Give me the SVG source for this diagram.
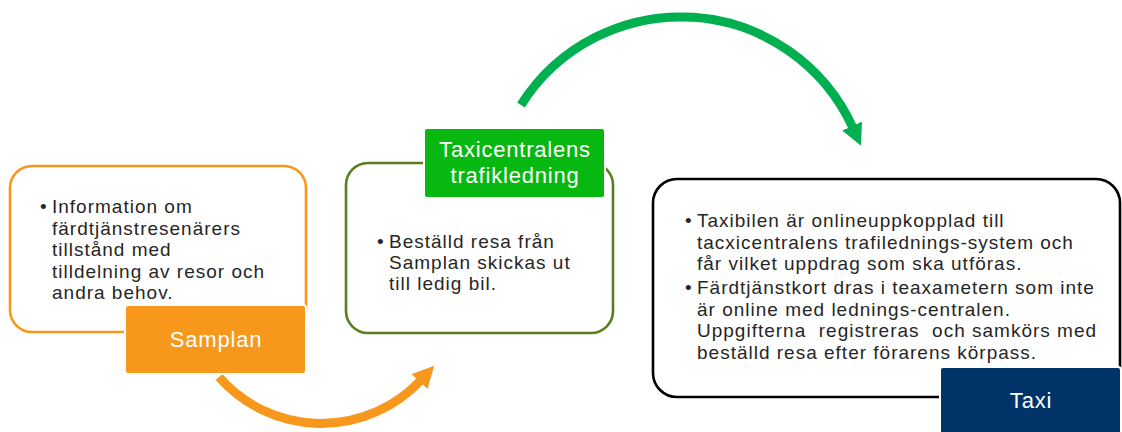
<svg xmlns="http://www.w3.org/2000/svg" width="1122" height="432" viewBox="0 0 1122 432">
<style>
.box{fill:#fff;stroke-width:2.6}
.lbl{stroke:#fff;stroke-width:2}
.body{font-family:"Liberation Sans",Arial,sans-serif;font-size:19px;letter-spacing:1px;fill:#262626}
.lt{font-family:"Liberation Sans",Arial,sans-serif;font-size:22px;letter-spacing:0.8px;fill:#fff;text-anchor:middle}
</style>
<defs>
<marker id="ahG" viewBox="0 0 10 10" refX="1" refY="5" markerWidth="2.4" markerHeight="2.4" orient="auto" markerUnits="strokeWidth"><path d="M0,0 L10,5 L0,10 z" fill="#00B050"/></marker>
<marker id="ahO" viewBox="0 0 10 10" refX="1" refY="5" markerWidth="2.4" markerHeight="2.4" orient="auto" markerUnits="strokeWidth"><path d="M0,0 L10,5 L0,10 z" fill="#F7981D"/></marker>
<clipPath id="taxiClip"><rect x="650" y="175" width="472" height="189"/></clipPath>
</defs>
<rect width="1122" height="432" fill="#fff"/>
<g id="connectors" fill="none" stroke-width="9">
<path d="M521,105 A189,189 0 0 1 853,128" stroke="#00B050" marker-end="url(#ahG)"/>
<path d="M219,377 A136,136 0 0 0 421,380" stroke="#F7981D" marker-end="url(#ahO)"/>
</g>
<g id="samplan">
<rect class="box" x="10" y="166" width="296" height="166" rx="22" stroke="#F7981D"/>
<text class="body"><tspan x="40" y="213">•</tspan><tspan x="52" y="213">Information om</tspan><tspan x="52" y="234.5">färdtjänstresenärers</tspan><tspan x="52" y="256">tillstånd med</tspan><tspan x="52" y="277.5">tilldelning av resor och</tspan><tspan x="52" y="299">andra behov.</tspan></text>
<rect class="lbl" x="125" y="305" width="181" height="69" rx="3" fill="#F7981D"/>
<text class="lt" x="216" y="347">Samplan</text>
</g>
<g id="taxicentralen">
<rect class="box" x="346" y="163" width="267" height="170" rx="22" stroke="#5B7F1F"/>
<text class="body"><tspan x="377" y="248">•</tspan><tspan x="389" y="248">Beställd resa från</tspan><tspan x="389" y="269">Samplan skickas ut</tspan><tspan x="389" y="290">till ledig bil.</tspan></text>
<rect class="lbl" x="424" y="128" width="181" height="70" rx="3" fill="#06B810"/>
<text class="lt" x="515" y="157">Taxicentralens</text>
<text class="lt" x="515" y="183">trafikledning</text>
</g>
<g id="taxi">
<rect class="box" x="653" y="179" width="467" height="218" rx="24" stroke="#000"/>
<g clip-path="url(#taxiClip)">
<text class="body" xml:space="preserve"><tspan x="685" y="227">•</tspan><tspan x="697" y="227">Taxibilen är onlineuppkopplad till</tspan><tspan x="697" y="248.5">tacxicentralens trafilednings-system och</tspan><tspan x="697" y="270">får vilket uppdrag som ska utföras.</tspan><tspan x="685" y="294">•</tspan><tspan x="697" y="294">Färdtjänstkort dras i teaxametern som inte</tspan><tspan x="697" y="315.5">är online med lednings-centralen.</tspan><tspan x="697" y="337">Uppgifterna  registreras  och samkörs med</tspan><tspan x="697" y="358.5">beställd resa efter förarens körpass.</tspan></text>
</g>
<rect class="lbl" x="940" y="367" width="181" height="72" rx="3" fill="#003468"/>
<text class="lt" x="1031" y="408">Taxi</text>
</g>
</svg>
